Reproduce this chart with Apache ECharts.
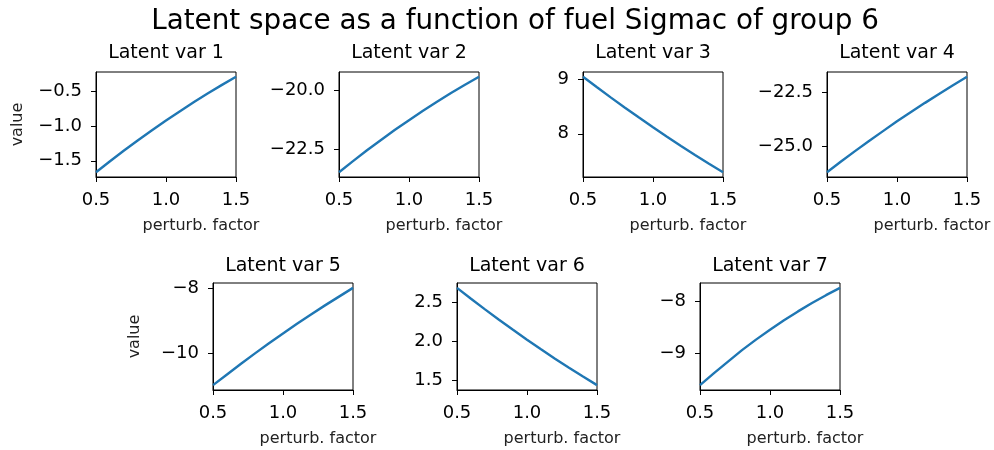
<!DOCTYPE html>
<html>
<head>
<meta charset="utf-8">
<script src="https://cdn.jsdelivr.net/npm/echarts@6/dist/echarts.min.js"></script>
<style>
  html, body { margin: 0; padding: 0; background: #fff; }
  #chart { width: 994px; height: 450px; }
</style>
</head>
<body>
<div id="chart"></div>
<script>
// Perturbation factor applied to fuel Sigmac (x values shared by all panels)
const perturb = [0.5, 0.6, 0.7, 0.8, 0.9, 1.0, 1.1, 1.2, 1.3, 1.4, 1.5];

// Latent variable responses
const latent1 = [-1.665, -1.507, -1.353, -1.204, -1.060, -0.920, -0.785, -0.654, -0.528, -0.407, -0.290];
const latent2 = [-23.49, -23.02, -22.56, -22.12, -21.69, -21.28, -20.88, -20.50, -20.13, -19.78, -19.44];
const latent3 = [9.040, 8.848, 8.660, 8.476, 8.296, 8.120, 7.948, 7.780, 7.616, 7.456, 7.300];
const latent4 = [-26.19, -25.70, -25.22, -24.75, -24.30, -23.85, -23.42, -23.00, -22.59, -22.19, -21.80];
const latent5 = [-10.99, -10.66, -10.33, -10.01, -9.70, -9.40, -9.10, -8.81, -8.53, -8.26, -7.99];
const latent6 = [2.687, 2.547, 2.410, 2.277, 2.147, 2.020, 1.896, 1.776, 1.659, 1.545, 1.435];
const latent7 = [-9.61, -9.38, -9.16, -8.94, -8.74, -8.55, -8.37, -8.20, -8.04, -7.89, -7.75];

const panelTitles = ['Latent var 1', 'Latent var 2', 'Latent var 3', 'Latent var 4',
                     'Latent var 5', 'Latent var 6', 'Latent var 7'];

// Y tick values per panel and their decimal places
const yTicks1 = [-1.5, -1.0, -0.5];
const yTicks2 = [-22.5, -20.0];
const yTicks3 = [8, 9];
const yTicks4 = [-25.0, -22.5];
const yTicks5 = [-10, -8];
const yTicks6 = [1.5, 2.0, 2.5];
const yTicks7 = [-9, -8];
const yDecimals = [1, 1, 0, 1, 0, 1, 0];

const xTicks = [0.5, 1.0, 1.5];

const supTitle = 'Latent space as a function of fuel Sigmac of group 6';
const xLabel = 'perturb. factor';
const yLabel = 'value';

const series = [latent1, latent2, latent3, latent4, latent5, latent6, latent7];
const yTicks = [yTicks1, yTicks2, yTicks3, yTicks4, yTicks5, yTicks6, yTicks7];

// Panel rectangles (px): two rows, 4 + 3 panels
const rowTop = [72, 283];
const panelH = [105, 107];
const panelW = 140;
const layout = [
  { left: 96,  row: 0 }, { left: 339, row: 0 }, { left: 583, row: 0 }, { left: 827, row: 0 },
  { left: 213, row: 1 }, { left: 457, row: 1 }, { left: 700, row: 1 }
];

const FONT = 'DejaVu Sans';
const fmtMinus = (v, d) => {
  const s = Math.abs(v).toFixed(d);
  return v < 0 ? '\u2212' + s : s;
};

const grids = [], xAxes = [], yAxes = [], seriesList = [], titles = [], graphics = [];

titles.push({
  text: supTitle, left: 515, top: 8, textAlign: 'center', padding: 0,
  textStyle: { fontFamily: FONT, fontSize: 27.8, fontWeight: 'normal', color: '#000' }
});

layout.forEach((p, i) => {
  const top = rowTop[p.row];
  const h = panelH[p.row];
  grids.push({
    left: p.left, top: top, width: panelW, height: h,
    show: true, borderColor: '#000', borderWidth: 1, backgroundColor: 'transparent',
    containLabel: false, outerBoundsMode: 'none'
  });

  const data = series[i];
  const lo = Math.min(...data), hi = Math.max(...data);
  const pad = (hi - lo) * 0.05; // 5% autoscale margin

  xAxes.push({
    type: 'value', gridIndex: i, min: 0.5, max: 1.5, interval: 0.5,
    axisLine: { show: true, lineStyle: { color: '#000', width: 1 } },
    axisTick: { show: true, length: 5, inside: false, lineStyle: { color: '#000', width: 1 } },
    axisLabel: {
      show: true, margin: 14, fontFamily: FONT, fontSize: 18, color: '#000',
      customValues: xTicks, formatter: v => v.toFixed(1)
    },
    splitLine: { show: false }
  });

  yAxes.push({
    type: 'value', gridIndex: i, min: lo - pad, max: hi + pad,
    axisLine: { show: true, lineStyle: { color: '#000', width: 1 } },
    axisTick: { show: true, length: 5, inside: false, customValues: yTicks[i],
                lineStyle: { color: '#000', width: 1 } },
    axisLabel: {
      show: true, margin: 14, fontFamily: FONT, fontSize: 18, color: '#000',
      customValues: yTicks[i], formatter: v => fmtMinus(v, yDecimals[i])
    },
    splitLine: { show: false }
  });

  seriesList.push({
    type: 'line', xAxisIndex: i, yAxisIndex: i,
    data: perturb.map((x, k) => [x, data[k]]),
    showSymbol: false, smooth: false, silent: true, animation: false,
    lineStyle: { color: '#1f77b4', width: 2.4 }
  });

  titles.push({
    text: panelTitles[i], left: p.left + panelW / 2, top: top - (p.row === 0 ? 28 : 26),
    textAlign: 'center', padding: 0,
    textStyle: { fontFamily: FONT, fontSize: 19, fontWeight: 'normal', color: '#000' }
  });

  graphics.push({
    type: 'text', x: p.left + panelW - 35, y: top + h + 49,
    style: { text: xLabel, fontFamily: FONT, fontSize: 16, fill: '#222',
             textAlign: 'center', textVerticalAlign: 'middle' }
  });

  if (i === 0 || i === 4) {
    graphics.push({
      type: 'text', x: p.left - 78, y: top + h / 2, rotation: Math.PI / 2,
      style: { text: yLabel, fontFamily: FONT, fontSize: 16, fill: '#222',
               textAlign: 'center', textVerticalAlign: 'middle' }
    });
  }
});

const chart = echarts.init(document.getElementById('chart'), null, { renderer: 'canvas' });
chart.setOption({
  animation: false,
  backgroundColor: '#fff',
  title: titles,
  grid: grids,
  xAxis: xAxes,
  yAxis: yAxes,
  series: seriesList,
  graphic: graphics
});
</script>
</body>
</html>
